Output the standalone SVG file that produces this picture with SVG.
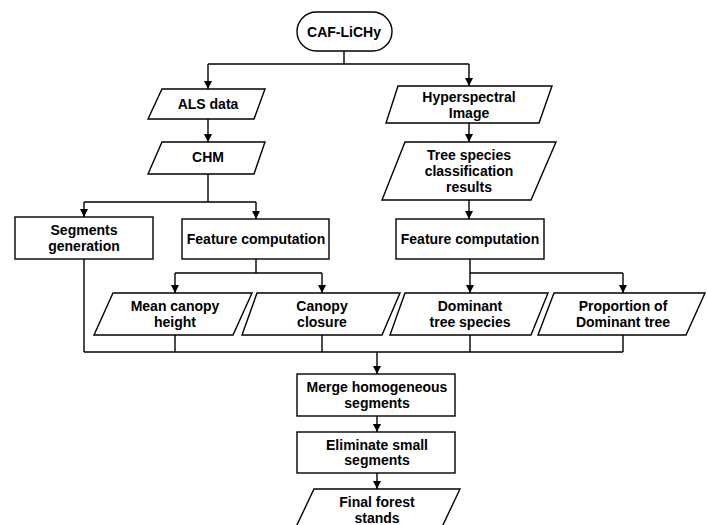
<svg xmlns="http://www.w3.org/2000/svg" width="707" height="525" viewBox="0 0 707 525">
<defs>
<marker id="ah" viewBox="0 0 10 10" refX="10" refY="5" markerWidth="8" markerHeight="8" markerUnits="userSpaceOnUse" orient="auto"><path d="M0,0 L10,5 L0,10 z" fill="#000"/></marker>
<style>
.n{fill:#fff;stroke:#000;stroke-width:1.4}
.t{font-family:"Liberation Sans",Arial,sans-serif;font-weight:bold;font-size:14px;text-anchor:middle;fill:#000}
.c{fill:none;stroke:#000;stroke-width:1.4}
.a{fill:none;stroke:#000;stroke-width:1.4;marker-end:url(#ah)}
</style>
</defs>
<rect width="707" height="525" fill="#fff"/>
<g id="connectors">
<path class="c" d="M344,51 V64 M208,64 H469"/>
<path class="a" d="M208,64 V89"/>
<path class="a" d="M469,64 V86"/>
<path class="a" d="M208,119 V142"/>
<path class="c" d="M208,174 V202 M84,202 H256"/>
<path class="a" d="M84,202 V217"/>
<path class="a" d="M256,202 V219"/>
<path class="c" d="M256,259 V273 M175,273 H322"/>
<path class="a" d="M175,273 V293"/>
<path class="a" d="M322,273 V293"/>
<path class="a" d="M469,123 V142"/>
<path class="a" d="M469,200 V219"/>
<path class="c" d="M470,259 V273 M470,273 H623"/>
<path class="a" d="M470,273 V293"/>
<path class="a" d="M623,273 V293"/>
<path class="c" d="M84,259 V352 M175,335 V352 M322,335 V352 M470,335 V352 M623,335 V352 M84,352 H623"/>
<path class="a" d="M377,352 V374"/>
<path class="a" d="M377,416 V432"/>
<path class="a" d="M377,473 V489"/>
</g>
<g id="caf"><rect class="n" x="297" y="12" width="95" height="39" rx="19.5"/><text class="t" x="344" y="37">CAF-LiCHy</text></g>
<g id="als"><polygon class="n" points="162,89 265,89 254,119 148,119"/><text class="t" x="208" y="109">ALS data</text></g>
<g id="chm"><polygon class="n" points="162,142 265,142 254,174 148,174"/><text class="t" x="208" y="162">CHM</text></g>
<g id="hyper"><polygon class="n" points="398,86 552,86 539,123 386,123"/><text class="t" x="469" y="102">Hyperspectral</text><text class="t" x="469" y="118">Image</text></g>
<g id="tree"><polygon class="n" points="405,142 556,142 531,200 382,200"/><text class="t" x="469" y="160">Tree species</text><text class="t" x="469" y="176">classification</text><text class="t" x="469" y="192">results</text></g>
<g id="seg"><rect class="n" x="15" y="217" width="138" height="42"/><text class="t" x="84" y="235">Segments</text><text class="t" x="84" y="251">generation</text></g>
<g id="feat1"><rect class="n" x="182" y="219" width="147" height="40"/><text class="t" x="256" y="244">Feature computation</text></g>
<g id="feat2"><rect class="n" x="396" y="219" width="148" height="40"/><text class="t" x="470" y="244">Feature computation</text></g>
<g id="mean"><polygon class="n" points="113,293 252,293 233,335 94,335"/><text class="t" x="175" y="311">Mean canopy</text><text class="t" x="175" y="327">height</text></g>
<g id="closure"><polygon class="n" points="257,293 400,293 382,335 242,335"/><text class="t" x="322" y="311">Canopy</text><text class="t" x="322" y="327">closure</text></g>
<g id="dom"><polygon class="n" points="405,293 548,293 531,335 390,335"/><text class="t" x="470" y="311">Dominant</text><text class="t" x="470" y="327">tree species</text></g>
<g id="prop"><polygon class="n" points="554,293 705,293 686,335 538,335"/><text class="t" x="623" y="311">Proportion of</text><text class="t" x="623" y="327">Dominant tree</text></g>
<g id="merge"><rect class="n" x="297" y="374" width="158" height="42"/><text class="t" x="377" y="392">Merge homogeneous</text><text class="t" x="377" y="408">segments</text></g>
<g id="elim"><rect class="n" x="297" y="432" width="158" height="41"/><text class="t" x="377" y="450">Eliminate small</text><text class="t" x="377" y="465">segments</text></g>
<g id="final"><polygon class="n" points="314,489 460,489 442,527 296,527"/><text class="t" x="377" y="507">Final forest</text><text class="t" x="377" y="523">stands</text></g>
</svg>
